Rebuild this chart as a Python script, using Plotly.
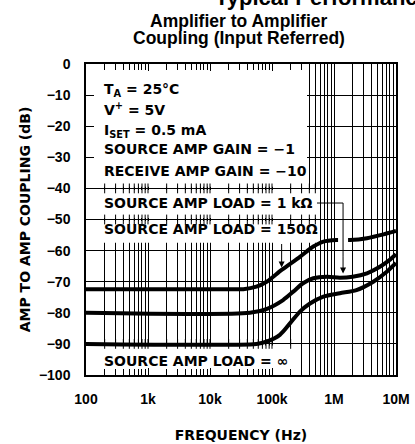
import math
import plotly.graph_objects as go

# ---- data ----
f_150 = [100, 20e3, 34.5e3, 56e3, 82e3, 143e3, 282e3, 464e3, 674e3, 1.1e6, 1.8e6, 3.4e6, 6.3e6, 10e6]
db_150 = [-72.4, -72.4, -72.4, -71.6, -70.0, -66.2, -62.0, -58.7, -57.1, -56.6, -56.6, -56.0, -54.8, -53.7]

f_1k = [100, 44e3, 81e3, 151e3, 220e3, 317e3, 464e3, 770e3, 1.24e6, 2e6, 3.4e6, 5.5e6, 8.1e6, 10e6]
db_1k = [-80, -80, -78.8, -75.9, -73.2, -70.5, -68.9, -68.4, -68.7, -68.4, -67.3, -65.2, -62.8, -61.2]

f_inf = [100, 56e3, 81e3, 134e3, 195e3, 282e3, 410e3, 674e3, 1.24e6, 2.3e6, 4.3e6, 7.1e6, 10e6]
db_inf = [-90, -90, -89.3, -87.1, -83.4, -79.6, -77.0, -74.8, -73.7, -72.7, -70.0, -66.8, -64.0]

x_tickvals = [1e2, 1e3, 1e4, 1e5, 1e6, 1e7]
x_ticktext = ["100", "1k", "10k", "100k", "1M", "10M"]
y_tickvals = [0, -10, -20, -30, -40, -50, -60, -70, -80, -90, -100]

conditions = [
    ("T<sub>A</sub> = 25°C", -8.4),
    ("V<sup>+</sup> = 5V", -14.6),
    ("I<sub>SET</sub> = 0.5 mA", -21.6),
    ("SOURCE AMP GAIN = −1", -27.2),
    ("RECEIVE AMP GAIN = −10", -34.4),
]
load_labels = [
    ("SOURCE AMP LOAD = 1 kΩ", -44.6),
    ("SOURCE AMP LOAD = 150Ω", -53.0),
    ("SOURCE AMP LOAD = ∞", -95.4),
]

minor_vals = [m * 10 ** d for d in range(2, 7) for m in range(2, 10)]
all_ticks = sorted(minor_vals + x_tickvals)

TICKFONT = dict(family="Liberation Sans, Arial", size=14, color="black", weight="bold")
LBLFONT = dict(family="DejaVu Sans", size=14, color="black", weight="bold")

fig = go.Figure()

# white label boxes (cover the grid like the original artwork)
def box(x0, x1, y0, y1):
    fig.add_trace(go.Scatter(x=[x0, x1, x1, x0, x0], y=[y0, y0, y1, y1, y0],
                             mode="lines", fill="toself", fillcolor="white",
                             line=dict(width=0, color="white"), hoverinfo="skip",
                             showlegend=False))

box(100, 367e3, 0, -39.5)
box(100, 573e3, -40.5, -49.5)
box(100, 532e3, -50.5, -57.5)
box(100, 251e3, -90.5, -100)

# small crosses where the grid lines pass through the boxes
def crosses(yv, xmax):
    xs = [t for t in all_ticks if t <= xmax and t > 100]
    fig.add_trace(go.Scatter(x=xs, y=[yv] * len(xs), mode="markers",
                             marker=dict(symbol="line-ns", size=7,
                                         line=dict(width=1, color="black")),
                             hoverinfo="skip", showlegend=False))

crosses(-40, 573e3)
crosses(-50, 532e3)
crosses(-90, 251e3)

# curves
for fx, dy in [(f_150, db_150), (f_1k, db_1k), (f_inf, db_inf)]:
    fig.add_trace(go.Scatter(x=fx, y=dy, mode="lines",
                             line=dict(color="black", width=4, shape="spline", smoothing=0.8),
                             hoverinfo="skip", showlegend=False))

# leader for 1 kOhm label (gap in the 150 ohm curve)
lead_x0 = 532e3
lead_x = 1.40e6
fig.add_trace(go.Scatter(x=[lead_x, lead_x], y=[-54.6, -59.2], mode="lines",
                         line=dict(color="white", width=10), hoverinfo="skip", showlegend=False))
fig.add_trace(go.Scatter(x=[lead_x0, lead_x, lead_x], y=[-44.7, -44.7, -62], mode="lines",
                         line=dict(color="black", width=1), hoverinfo="skip", showlegend=False))

fig.add_annotation(x=math.log10(lead_x), y=-67.4, ax=math.log10(lead_x), ay=-61.5,
                   xref="x", yref="y", axref="x", ayref="y", text="", showarrow=True,
                   arrowhead=2, arrowsize=1.2, arrowwidth=1, arrowcolor="black")
arrow2_x = 143e3
fig.add_annotation(x=math.log10(arrow2_x), y=-65.4, ax=math.log10(arrow2_x), ay=-57.4,
                   xref="x", yref="y", axref="x", ayref="y", text="", showarrow=True,
                   arrowhead=2, arrowsize=1.2, arrowwidth=1, arrowcolor="black")

for txt, yv in conditions + load_labels:
    fig.add_annotation(x=2.255, y=yv, xref="x", yref="y", text=txt, showarrow=False,
                       xanchor="left", yanchor="middle", font=LBLFONT)

# titles
fig.add_annotation(x=0.41, y=1.2154, xref="paper", yref="paper",
                   text="Typical Performance Characteristics", showarrow=False,
                   xanchor="left", yanchor="middle",
                   font=dict(family="Liberation Sans, Arial", size=22, color="black", weight="bold"))
fig.add_annotation(x=0.4935, y=1.138, xref="paper", yref="paper",
                   text="Amplifier to Amplifier", showarrow=False,
                   xanchor="center", yanchor="middle",
                   font=dict(family="Liberation Sans, Arial", size=17.5, color="black", weight="bold"))
fig.add_annotation(x=0.4935, y=1.0836, xref="paper", yref="paper",
                   text="Coupling (Input Referred)", showarrow=False,
                   xanchor="center", yanchor="middle",
                   font=dict(family="Liberation Sans, Arial", size=17.5, color="black", weight="bold"))

fig.update_xaxes(type="log", range=[2, 7], tickvals=x_tickvals, ticktext=x_ticktext,
                 ticks="inside", ticklen=7, tickcolor="black", tickwidth=1,
                 showgrid=True, gridcolor="black", gridwidth=1,
                 minor=dict(tickvals=minor_vals, ticks="inside", ticklen=6, tickcolor="black",
                            showgrid=True, gridcolor="black", gridwidth=1),
                 showline=True, linecolor="black", linewidth=1.5, mirror="ticks",
                 tickfont=TICKFONT, ticklabelstandoff=10, zeroline=False, automargin=False,
                 title=dict(text="FREQUENCY (Hz)", font=LBLFONT, standoff=25))
fig.update_yaxes(range=[-100, 0], tickvals=y_tickvals,
                 ticks="inside", ticklen=8, tickcolor="black", tickwidth=1,
                 showgrid=True, gridcolor="black", gridwidth=1,
                 showline=True, linecolor="black", linewidth=1.5, mirror="ticks",
                 tickfont=TICKFONT, ticklabelstandoff=11, zeroline=False, automargin=False,
                 title=dict(text="AMP TO AMP COUPLING (dB)", font=LBLFONT, standoff=5))

fig.update_layout(width=415, height=444, autosize=False,
                  margin=dict(l=86, r=19, t=64, b=69),
                  paper_bgcolor="white", plot_bgcolor="white", showlegend=False)

fig.write_html("out.html",
               config={"displayModeBar": False, "responsive": False},
               post_script="document.body.style.margin='0';")
